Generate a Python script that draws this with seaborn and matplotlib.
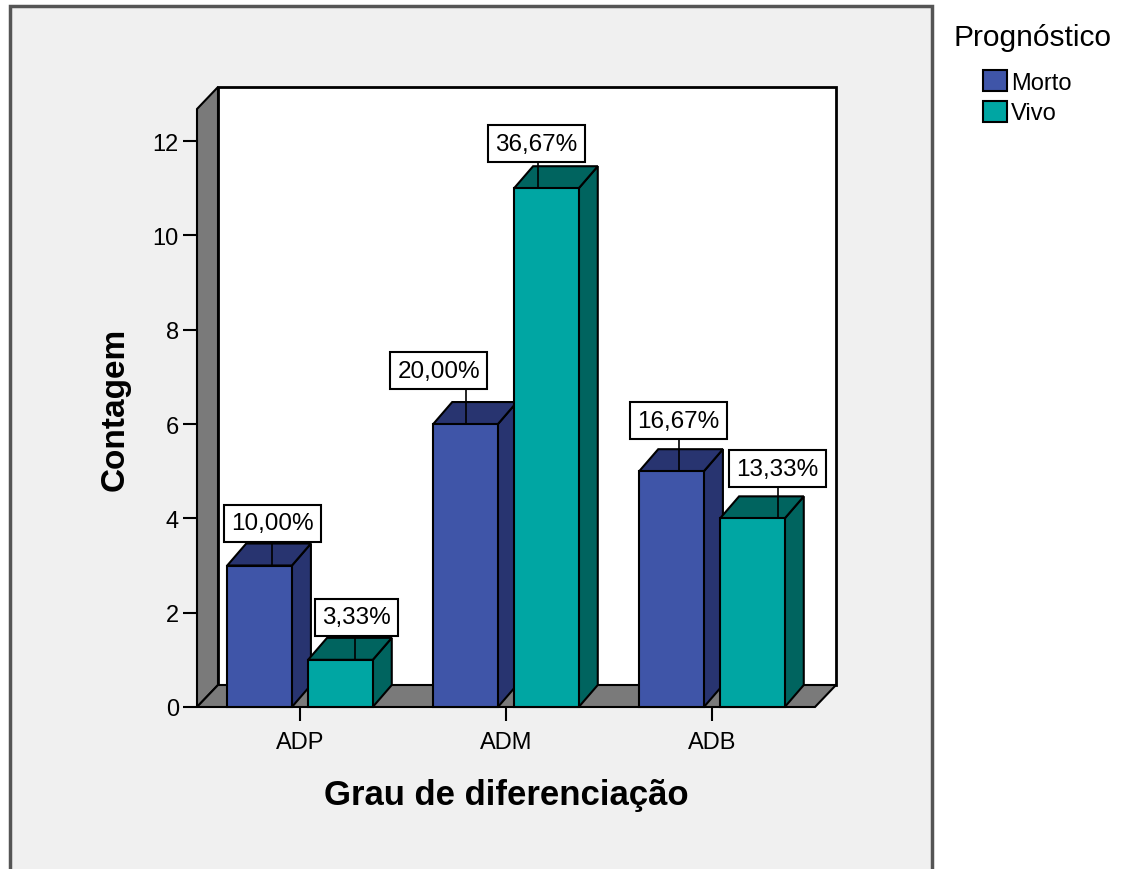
import matplotlib
matplotlib.use("Agg")
import matplotlib.pyplot as plt
from matplotlib.patches import Polygon, Rectangle, Patch
import seaborn as sns
import pandas as pd

# ---- data -------------------------------------------------------------
categories = ["ADP", "ADM", "ADB"]
groups = ["Morto", "Vivo"]
morto_counts = [3, 6, 5]
vivo_counts = [1, 11, 4]

# ---- style ------------------------------------------------------------
sns.set_style("white")
plt.rcParams["font.family"] = ["Liberation Sans", "DejaVu Sans"]
plt.rcParams["text.color"] = "black"
plt.rcParams["axes.labelcolor"] = "black"
plt.rcParams["xtick.color"] = "black"
plt.rcParams["ytick.color"] = "black"

front_colors = {"Morto": "#3F55A8", "Vivo": "#00A6A3"}
shade_colors = {"Morto": "#283470", "Vivo": "#00645F"}
wall_gray = "#7A7A7A"

W, H = 1122, 870
fig = plt.figure(figsize=(W / 100, H / 100), dpi=100)
fig.patch.set_facecolor("white")


def fx(px):
    return px / W


def fy(py):
    return 1 - py / H


# chart frame
fig.add_artist(Rectangle((fx(10), fy(900)), (932 - 10) / W, (900 - 7) / H,
                         transform=fig.transFigure, facecolor="#F0F0F0",
                         edgecolor="#555555", linewidth=2.5, zorder=-1))

# front plane of the 3D box
ax = fig.add_axes([fx(197), fy(708), (815 - 197) / W, (708 - 110) / H])
ax.set_facecolor("none")

df = pd.DataFrame({
    "Grau de diferenciação": categories * 2,
    "Contagem": morto_counts + vivo_counts,
    "Prognóstico": ["Morto"] * 3 + ["Vivo"] * 3,
})

sns.barplot(data=df, x="Grau de diferenciação", y="Contagem",
            hue="Prognóstico", hue_order=groups, order=categories,
            palette=[front_colors[g] for g in groups], saturation=1,
            width=0.785, gap=0.2, edgecolor="black", linewidth=1.5,
            legend=False, ax=ax)

x0, x1 = -0.5, 2.5
y0, y1 = 0, 12.68
ax.set_xlim(x0, x1)
ax.set_ylim(y0, y1)
for s in ax.spines.values():
    s.set_visible(False)

ppu_x = (815 - 197) / (x1 - x0)
ppu_y = (708 - 110) / (y1 - y0)

# depth of walls and bars (pixels -> data units)
wdx, wdy = 21 / ppu_x, 22 / ppu_y
bdx, bdy = 19 / ppu_x, 22 / ppu_y

# back wall, left wall and floor
ax.add_patch(Polygon([(x0 + wdx, wdy), (x1 + wdx, wdy), (x1 + wdx, y1 + wdy),
                      (x0 + wdx, y1 + wdy)], closed=True, facecolor="white",
                     edgecolor="black", linewidth=2, clip_on=False, zorder=0.5))
ax.add_patch(Polygon([(x0, 0), (x0 + wdx, wdy), (x0 + wdx, y1 + wdy), (x0, y1)],
                     closed=True, facecolor=wall_gray, edgecolor="black",
                     linewidth=1.5, clip_on=False, zorder=0.6))
ax.add_patch(Polygon([(x0, 0), (x1, 0), (x1 + wdx, wdy), (x0 + wdx, wdy)],
                     closed=True, facecolor=wall_gray, edgecolor="black",
                     linewidth=1.5, clip_on=False, zorder=0.6))

# 3D sides and tops of the bars
bars = sorted([p for p in ax.patches if isinstance(p, Rectangle) and p.get_height() > 0
               and p.get_width() < 1], key=lambda p: p.get_x())
total = sum(morto_counts) + sum(vivo_counts)

# label placement: leader offset, box offset (px) and gap above bar (px)
leader_dx = [12, 15, 0, -8, 7, 26]
box_dx = [1, 1, -27, -2, 0, -1]
gap_px = [24, 24, 35, 26, 32, 31]
label_size = 17.5

for k, p in enumerate(bars):
    g = groups[k % 2]
    bx, bw, h = p.get_x(), p.get_width(), p.get_height()
    z = 2 + k
    p.set_zorder(z)
    p.set_clip_on(False)
    ax.add_patch(Polygon([(bx + bw, 0), (bx + bw + bdx, bdy), (bx + bw + bdx, h + bdy),
                          (bx + bw, h)], closed=True, facecolor=shade_colors[g],
                         edgecolor="black", linewidth=1.5, zorder=z - 0.1, clip_on=False))
    ax.add_patch(Polygon([(bx, h), (bx + bdx, h + bdy), (bx + bw + bdx, h + bdy),
                          (bx + bw, h)], closed=True, facecolor=shade_colors[g],
                         edgecolor="black", linewidth=1.5, zorder=z - 0.1, clip_on=False))

    # percentage label with leader line
    cx = bx + bw / 2 + leader_dx[k] / ppu_x
    top = h + gap_px[k] / ppu_y
    ax.plot([cx, cx], [h, top], color="black", linewidth=1.2, zorder=20,
            clip_on=False)
    pad_px = 7.5
    pct = f"{h / total * 100:.2f}%".replace(".", ",")
    ax.text(cx + box_dx[k] / ppu_x, top + pad_px / ppu_y, pct, ha="center",
            va="bottom", fontsize=label_size, zorder=21, color="black",
            bbox=dict(boxstyle=f"square,pad={pad_px / (label_size * 100 / 72):.3f}",
                      facecolor="white", edgecolor="black", linewidth=1.5))

# axes, ticks and titles
ax.set_yticks(range(0, 13, 2))
ax.tick_params(axis="y", length=10, width=1.5, pad=3, labelsize=17, colors="black",
               left=True)
ax.tick_params(axis="x", length=10, width=1.5, pad=7, labelsize=17, colors="black",
               bottom=True)
ax.set_xlabel("Grau de diferenciação", fontsize=25, fontweight="bold", labelpad=18)
ax.set_ylabel("Contagem", fontsize=24, fontweight="bold", labelpad=16)

# legend
fig.text(fx(1032), fy(38), "Prognóstico", fontsize=21.5, ha="center", va="center",
         color="black")
handles = [Patch(facecolor=front_colors[g], edgecolor="black", linewidth=1.5)
           for g in groups]
leg = fig.legend(handles, groups, loc="upper left",
                 bbox_to_anchor=(fx(983), fy(71)), frameon=False, fontsize=17,
                 handlelength=1.0, handleheight=1.0,
                 handletextpad=0.2, labelspacing=0.3, borderaxespad=0,
                 borderpad=0)

fig.savefig("out.png", dpi=100)
